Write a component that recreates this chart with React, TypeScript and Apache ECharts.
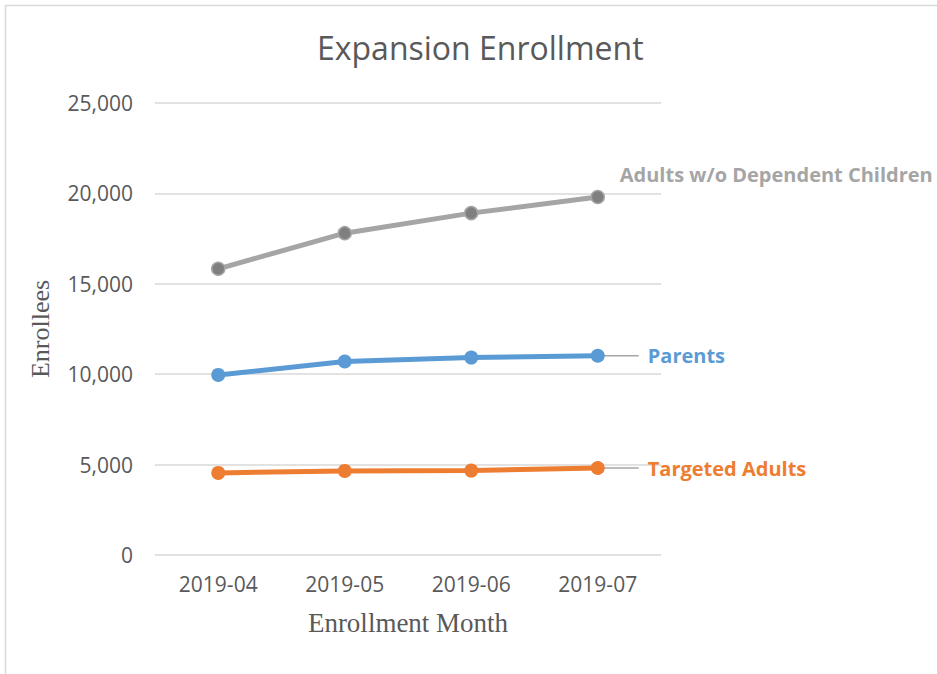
import React, { useEffect, useRef } from "react";
import * as echarts from "echarts";

const months = ["2019-04", "2019-05", "2019-06", "2019-07"];
const adultsNoChildren = [15830, 17800, 18910, 19800];
const parents = [9960, 10700, 10920, 11020];
const targetedAdults = [4540, 4650, 4670, 4810];
const yTicks = [0, 5000, 10000, 15000, 20000, 25000];

export default function App() {
  const ref = useRef<HTMLDivElement>(null);
  useEffect(() => {
    if (!ref.current) return;
    const chart = echarts.init(ref.current, null, { renderer: "svg" });
    const labelBase = { show: true, fontFamily: "Open Sans", fontWeight: "bold", fontSize: 20 };
    chart.setOption({
      animation: false,
      backgroundColor: "#ffffff",
      title: {
        text: "Expansion Enrollment",
        left: 312,
        top: 26,
        textStyle: { fontFamily: "Open Sans", fontSize: 32, fontWeight: "normal", color: "#595959" },
      },
      grid: { left: 155, right: 276, top: 103, bottom: 119 },
      xAxis: {
        type: "category",
        data: months,
        boundaryGap: true,
        axisLine: { show: false },
        axisTick: { show: false },
        axisLabel: { fontFamily: "Open Sans", fontSize: 21, color: "#595959", margin: 18 },
        name: "Enrollment Month",
        nameLocation: "middle",
        nameGap: 54,
        nameTextStyle: { fontFamily: "Liberation Serif", fontSize: 27, color: "#595959" },
      },
      yAxis: {
        type: "value",
        min: yTicks[0],
        max: yTicks[yTicks.length - 1],
        interval: 5000,
        axisLine: { show: false },
        axisTick: { show: false },
        splitLine: { lineStyle: { color: "#d9d9d9", width: 1.5 } },
        axisLabel: {
          fontFamily: "Open Sans",
          fontSize: 21,
          color: "#595959",
          margin: 22,
          formatter: (v: number) => v.toLocaleString("en-US"),
        },
        name: "Enrollees",
        nameLocation: "middle",
        nameGap: 102,
        nameTextStyle: { fontFamily: "Liberation Serif", fontSize: 26, color: "#595959" },
      },
      series: [
        {
          name: "Adults w/o Dependent Children",
          type: "line",
          data: adultsNoChildren,
          symbol: "circle",
          symbolSize: 13,
          lineStyle: { color: "#a5a5a5", width: 5 },
          itemStyle: { color: "#7f7f7f", borderColor: "#a5a5a5", borderWidth: 1.5 },
          endLabel: { ...labelBase, color: "#a5a5a5", formatter: "{a}", distance: 22, offset: [0, -23] },
        },
        {
          name: "Parents",
          type: "line",
          data: parents,
          symbol: "circle",
          symbolSize: 14,
          lineStyle: { color: "#5b9bd5", width: 5 },
          itemStyle: { color: "#5b9bd5" },
          endLabel: { ...labelBase, color: "#5b9bd5", formatter: "{a}", distance: 50 },
        },
        {
          name: "Targeted Adults",
          type: "line",
          data: targetedAdults,
          symbol: "circle",
          symbolSize: 14,
          lineStyle: { color: "#ed7d31", width: 5 },
          itemStyle: { color: "#ed7d31" },
          endLabel: { ...labelBase, color: "#ed7d31", formatter: "{a}", distance: 50 },
        },
      ],
    });
    const last = months.length - 1;
    const p1 = chart.convertToPixel({ seriesIndex: 1 }, [last, parents[last]]) as number[];
    const p2 = chart.convertToPixel({ seriesIndex: 2 }, [last, targetedAdults[last]]) as number[];
    chart.setOption({
      graphic: [
        {
          type: "rect",
          shape: { x: 5.5, y: 5.5, width: 960, height: 700 },
          style: { fill: "none", stroke: "#d9d9d9", lineWidth: 1.5 },
          silent: true,
        },
        {
          type: "line",
          z: 1,
          shape: { x1: p1[0], y1: p1[1], x2: p1[0] + 41, y2: p1[1] },
          style: { stroke: "#a6a6a6", lineWidth: 1.5 },
        },
        {
          type: "line",
          z: 1,
          shape: { x1: p2[0], y1: p2[1], x2: p2[0] + 41, y2: p2[1] },
          style: { stroke: "#a6a6a6", lineWidth: 1.5 },
        },
      ],
    });
    return () => chart.dispose();
  }, []);
  return <div ref={ref} style={{ position: "fixed", left: 0, top: 0, width: 937, height: 674 }} />;
}
